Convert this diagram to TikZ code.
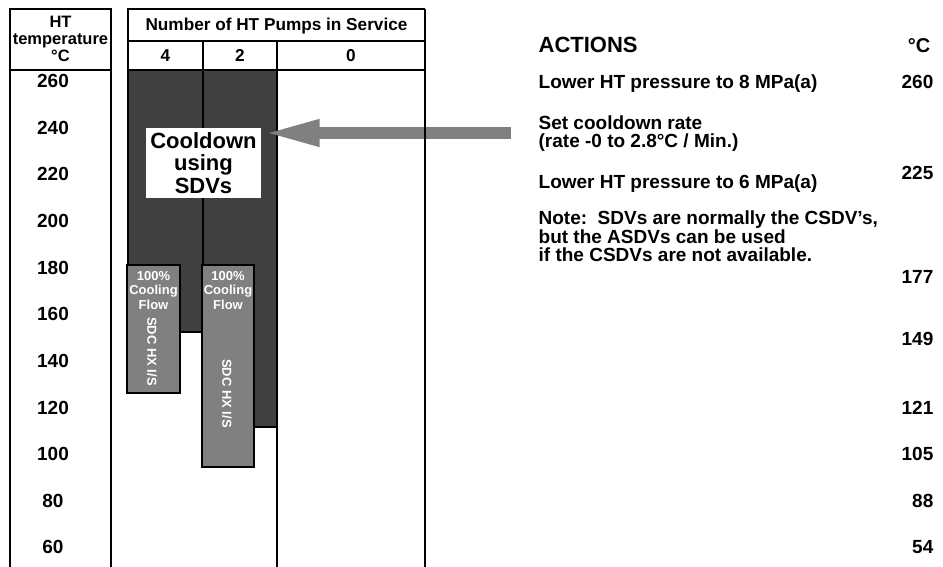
\documentclass[tikz,border=0pt]{standalone}
\usepackage{fontspec}
\setmainfont{Liberation Sans}
\usetikzlibrary{arrows.meta}
\definecolor{darkfill}{HTML}{404040}
\definecolor{flowgray}{HTML}{808080}
\begin{document}
\begin{tikzpicture}[x=1pt,y=-1pt,line width=1.3pt,
  txt/.style={inner sep=0pt,font=\bfseries\fontsize{19}{19}\selectfont},
  hdr/.style={inner sep=0pt,font=\bfseries\fontsize{17.2}{17.2}\selectfont},
  small/.style={inner sep=0pt,font=\bfseries\fontsize{16.5}{17}\selectfont},
  darkcol/.style={fill=darkfill,draw=black},
  flowbox/.style={fill=flowgray,draw=black},
  wtxt/.style={inner sep=0pt,text=white,align=center,font=\bfseries\fontsize{13}{14.5}\selectfont},
  vtxt/.style={inner sep=0pt,text=white,rotate=-90,font=\bfseries\fontsize{13}{13}\selectfont},
  bigarrow/.style={draw=flowgray,line width=12pt,-{Triangle[length=58pt,width=24pt]}}]
\useasboundingbox (0,0) rectangle (943,567);
\fill[white] (0,0) rectangle (943,567);

% temperature scale column
\draw (10,567) -- (10,9) -- (111,9) -- (111,567);
\draw (10,70) -- (111,70);
\node[small,anchor=base] (hHT) at (60.5,28) {HT};
\node[small,anchor=base] (hTemp) at (60.5,45) {temperature};
\node[small,anchor=base] (hDeg) at (60.5,62) {°C};
\foreach \t [count=\i from 0] in {260,240,220,200,180,160,140,120,100,80,60}
  \node[txt,anchor=base] (L\t) at (53,87.8+46.6*\i) {\t};

% pump header
\draw (128,70) -- (128,9) -- (425,9);
\draw (128,41) -- (425,41);
\draw (128,70) -- (425,70);
\draw (203,41) -- (203,70);
\node[hdr,anchor=base] (pumps) at (276.5,31) {Number of HT Pumps in Service};
\node[hdr,anchor=base] (p4) at (165.5,62) {4};
\node[hdr,anchor=base] (p2) at (240,62) {2};
\node[hdr,anchor=base] (p0) at (351,62) {0};

% cooldown bands
\filldraw[darkcol] (128,70) rectangle (203,332);
\filldraw[darkcol] (203,70) rectangle (277,427);
\draw (277,41) -- (277,567);

% shutdown cooling heat exchanger bands
\filldraw[flowbox] (127,265) rectangle (180,393);
\filldraw[flowbox] (202,265) rectangle (254,467);
\node[wtxt,anchor=north] (f1) at (153.5,270.5) {100\%\\Cooling\\Flow};
\node[wtxt,anchor=north] (f2) at (228,270.5) {100\%\\Cooling\\Flow};
\node[vtxt] (s1) at (152,351.5) {SDC HX I/S};
\node[vtxt] (s2) at (227,393.5) {SDC HX I/S};

% cooldown label and pointer
\node[fill=white,minimum width=115pt,minimum height=70pt,inner sep=0pt,align=center,
  font=\bfseries\fontsize{22}{22.5}\selectfont] (cool) at (203.5,163) {Cooldown\\using\\SDVs};
\coordinate (tail) at (511,133);
\draw[bigarrow] (tail) -- (cool.east |- tail);
\draw (425,9) -- (425,567);

% actions
\node[inner sep=0pt,anchor=base west,font=\bfseries\fontsize{22}{22}\selectfont] (act) at (538,53) {ACTIONS};
\node[inner sep=0pt,anchor=base east,font=\bfseries\fontsize{20}{20}\selectfont] (degR) at (931,53) {°C};
\node[txt,anchor=base west] (a1) at (538,89) {Lower HT pressure to 8 MPa(a)};
\node[txt,anchor=base west] (a2) at (538,130) {Set cooldown rate};
\node[txt,anchor=base west] (a3) at (538,148) {(rate -0 to 2.8°C / Min.)};
\node[txt,anchor=base west] (a4) at (538,189) {Lower HT pressure to 6 MPa(a)};
\node[txt,anchor=base west] (n1) at (538,225) {Note:\ \ SDVs are normally the CSDV’s,};
\node[txt,anchor=base west] (n2) at (538,243) {but the ASDVs can be used};
\node[txt,anchor=base west] (n3) at (538,261) {if the CSDVs are not available.};

% temperatures of the actions
\node[txt,anchor=base east] (R260) at (934,89) {260};
\node[txt,anchor=base east] (R225) at (934,179) {225};
\node[txt,anchor=base east] (R177) at (934,283) {177};
\node[txt,anchor=base east] (R149) at (934,345) {149};
\node[txt,anchor=base east] (R121) at (934,414) {121};
\node[txt,anchor=base east] (R105) at (934,460.6) {105};
\node[txt,anchor=base east] (R88) at (934,507.2) {88};
\node[txt,anchor=base east] (R54) at (934,553.8) {54};
\end{tikzpicture}
\end{document}
